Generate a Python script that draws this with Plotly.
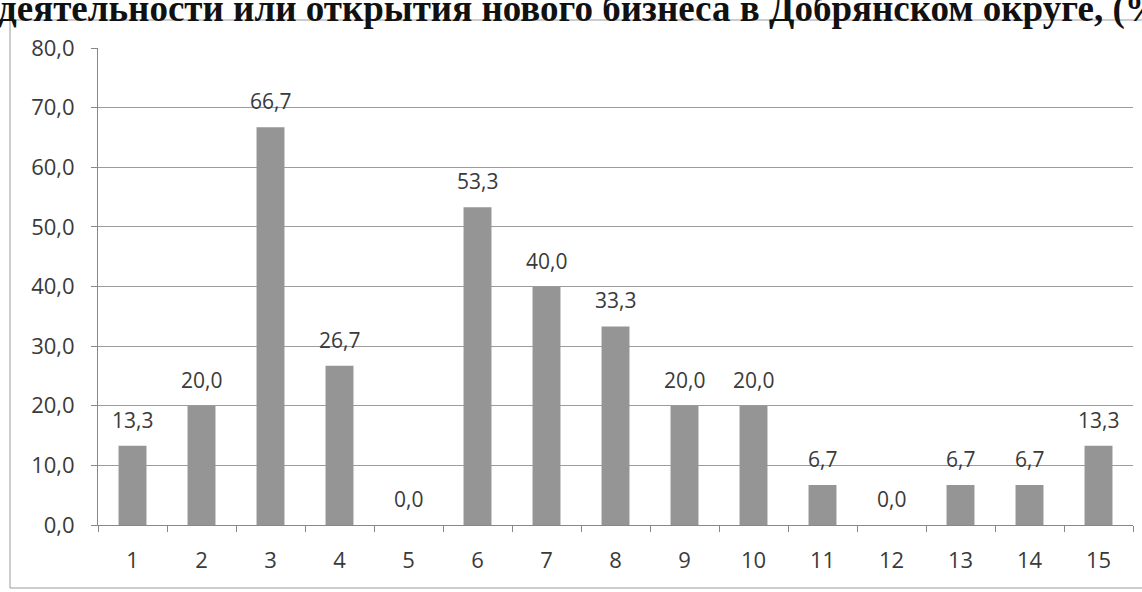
import plotly.graph_objects as go

categories = [str(i) for i in range(1, 16)]
values = [13.3, 20.0, 66.7, 26.7, 0.0, 53.3, 40.0, 33.3, 20.0, 20.0, 6.7, 0.0, 6.7, 6.7, 13.3]
labels = [f"{v:.1f}".replace(".", ",") for v in values]
title_text = "деятельности или открытия нового бизнеса в Добрянском округе, (%)"

W, H = 1142, 592
L, R, T, B = 98, 9, 48, 67
pw, ph = W - L - R, H - T - B

fig = go.Figure(go.Bar(
    x=categories, y=values,
    marker=dict(color="#959595", line=dict(width=0)),
    cliponaxis=False,
))

for i, (v, t) in enumerate(zip(values, labels)):
    fig.add_annotation(x=i, y=v, text=t, showarrow=False, yanchor="bottom",
                       yshift=10, font=dict(family="Open Sans", size=21, color="#3a3a3a"))

fig.update_layout(
    width=W, height=H,
    margin=dict(l=L, r=R, t=T, b=B),
    paper_bgcolor="white", plot_bgcolor="white",
    bargap=0.595,
    separators=", ",
    showlegend=False,
    font=dict(family="Open Sans", color="#3a3a3a"),
)
fig.update_xaxes(
    type="category", tickson="boundaries", ticks="outside", ticklen=6,
    range=[-0.5, len(categories) - 0.5], ticklabelstandoff=16,
    tickcolor="#888888", showline=True, linecolor="#888888", linewidth=1,
    showgrid=False, tickfont=dict(size=22, color="#3a3a3a"),
)
fig.update_yaxes(
    range=[0, 80], dtick=10, tickformat=".1f", ticks="outside", ticklen=6,
    ticklabelstandoff=12,
    tickcolor="#888888", showline=True, linecolor="#888888", linewidth=1,
    showgrid=True, gridcolor="#9c9c9c", gridwidth=1, zeroline=False,
    tickfont=dict(size=22, color="#3a3a3a"),
)

# outer chart frame
fig.add_shape(type="rect", xref="paper", yref="paper",
              x0=(10 - L) / pw, x1=1.05, y0=-(588 - (H - B)) / ph, y1=((H - B) - 20) / ph,
              line=dict(color="#9a9a9a", width=1), fillcolor="rgba(0,0,0,0)", layer="below")

fig.add_annotation(text=title_text, xref="paper", yref="paper", x=0, y=1,
                   xanchor="left", yanchor="bottom", xshift=-L - 4, yshift=16,
                   showarrow=False,
                   font=dict(family="Liberation Serif", size=37, color="#111111", weight="bold"))

fig.write_html("out.html", config={"displayModeBar": False},
               post_script="document.body.style.margin='0';")
